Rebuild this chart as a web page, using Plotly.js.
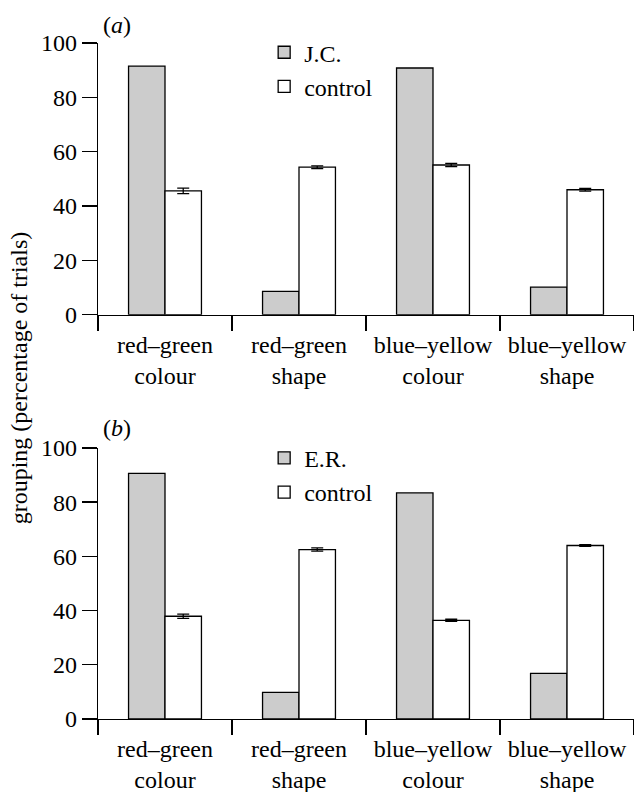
<!DOCTYPE html>
<html>
<head>
<meta charset="utf-8">
<script src="https://cdn.plot.ly/plotly-3.0.1.min.js"></script>
<style>html,body{margin:0;padding:0;background:#fff;}#chart{width:634px;height:792px;}</style>
</head>
<body>
<div id="chart"></div>
<script>
const categories = ['red–green<br>colour', 'red–green<br>shape', 'blue–yellow<br>colour', 'blue–yellow<br>shape'];
const jcValues = [91.5, 8.6, 90.8, 10.2];
const jcControl = [45.6, 54.3, 55.1, 46.0];
const jcControlErr = [1.0, 0.5, 0.6, 0.5];
const erValues = [90.6, 9.8, 83.4, 16.8];
const erControl = [37.9, 62.5, 36.4, 64.0];
const erControlErr = [0.8, 0.6, 0.4, 0.3];
const yTicks = [0, 20, 40, 60, 80, 100];

const GRAY = '#cccccc';
const lineStyle = {color: '#000', width: 1.3};
const errStyle = (arr) => ({type: 'data', array: arr, visible: true, color: '#000', thickness: 1.3, width: 6});

const traces = [
  {type: 'bar', name: 'J.C.', x: categories, y: jcValues, xaxis: 'x', yaxis: 'y',
   marker: {color: GRAY, line: lineStyle}, legend: 'legend'},
  {type: 'bar', name: 'control', x: categories, y: jcControl, xaxis: 'x', yaxis: 'y',
   marker: {color: '#ffffff', line: lineStyle}, error_y: errStyle(jcControlErr), legend: 'legend'},
  {type: 'bar', name: 'E.R.', x: categories, y: erValues, xaxis: 'x2', yaxis: 'y2',
   marker: {color: GRAY, line: lineStyle}, legend: 'legend2'},
  {type: 'bar', name: 'control', x: categories, y: erControl, xaxis: 'x2', yaxis: 'y2',
   marker: {color: '#ffffff', line: lineStyle}, error_y: errStyle(erControlErr), legend: 'legend2'}
];

const FONT = {family: 'Liberation Serif', size: 24, color: '#000'};

const xAxisBase = {
  type: 'category', showline: true, linecolor: '#000', linewidth: 1.3,
  ticks: 'outside', tickson: 'boundaries', ticklen: 15, tickwidth: 1.3, tickcolor: '#000',
  ticklabelstandoff: 8,
  showgrid: false, zeroline: false, fixedrange: true, tickfont: FONT
};
const yAxisBase = {
  range: [0, 100], tickvals: yTicks, showline: true, linecolor: '#000', linewidth: 1.3,
  ticks: 'outside', ticklen: 15, tickwidth: 1.3, tickcolor: '#000',
  showgrid: false, zeroline: false, fixedrange: true, tickfont: FONT
};

const legendBase = {
  font: FONT, bgcolor: 'rgba(0,0,0,0)', borderwidth: 0, xanchor: 'left', yanchor: 'top',
  traceorder: 'normal', tracegroupgap: 0
};

const layout = {
  width: 634, height: 792,
  margin: {l: 98, r: 0, t: 43, b: 73},
  paper_bgcolor: '#fff', plot_bgcolor: '#fff',
  font: FONT,
  barmode: 'group', bargap: 0.456, bargroupgap: 0,
  showlegend: true,
  xaxis: Object.assign({}, xAxisBase, {anchor: 'y'}),
  yaxis: Object.assign({}, yAxisBase, {domain: [0.598, 1], anchor: 'x'}),
  xaxis2: Object.assign({}, xAxisBase, {anchor: 'y2'}),
  yaxis2: Object.assign({}, yAxisBase, {domain: [0, 0.401], anchor: 'x2'}),
  legend: Object.assign({}, legendBase, {x: 0.31, y: 1.019}),
  legend2: Object.assign({}, legendBase, {x: 0.31, y: 0.419}),
  annotations: [
    {text: '(<i>a</i>)', xref: 'paper', yref: 'paper', x: 0.005, y: 1.027, xanchor: 'left', yanchor: 'middle', showarrow: false, font: FONT},
    {text: '(<i>b</i>)', xref: 'paper', yref: 'paper', x: 0.005, y: 0.431, xanchor: 'left', yanchor: 'middle', showarrow: false, font: FONT},
    {text: 'grouping (percentage of trials)', xref: 'paper', yref: 'paper', x: -0.148, y: 0.505, xanchor: 'center', yanchor: 'middle', textangle: -90, showarrow: false, font: FONT}
  ]
};

Plotly.newPlot('chart', traces, layout, {displayModeBar: false, staticPlot: true});
</script>
</body>
</html>
